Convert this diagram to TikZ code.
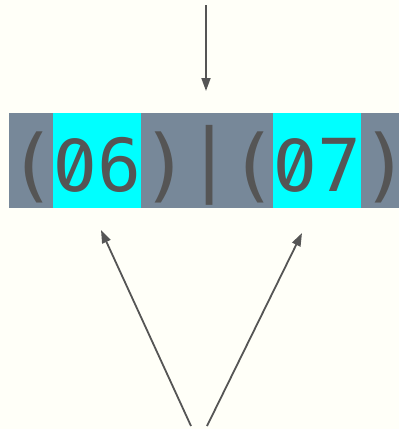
\documentclass[tikz,border=0pt]{standalone}
\usepackage{fontspec}
\setmonofont{DejaVu Sans Mono}
\newfontfamily\zerofont[RawFeature=+zero]{Fira Sans}
\usetikzlibrary{arrows.meta}
\definecolor{paper}{HTML}{FFFFF8}
\definecolor{ink}{HTML}{555555}
\definecolor{slate}{HTML}{778899}
\definecolor{hilite}{HTML}{00FFFF}
% glyph variants: slashed zero, taller brackets and bar
\newcommand{\szero}{{\zerofont\fontsize{78}{78}\selectfont 0}}
\newcommand{\tallglyph}[2]{\raisebox{#1pt}{\fontsize{80}{80}\selectfont #2}}
\tikzset{
  glyph/.style={inner sep=0pt, outer sep=0pt, minimum width=44pt,
    text height=78pt, text depth=17pt, text=ink, anchor=north west,
    font=\ttfamily\fontsize{73}{73}\selectfont},
  plaincell/.style={glyph, fill=slate},
  hicell/.style={glyph, fill=hilite},
  pointer/.style={draw=ink, line width=1.8pt, -{Triangle[length=13pt,width=9pt]}}
}
\begin{document}
\begin{tikzpicture}[x=1pt, y=-1pt]
  \fill[paper] (0,0) rectangle (399,429);
  \useasboundingbox (0,0) rectangle (399,429);
  \clip (0,0) rectangle (399,429);
  % the character strip
  \node[plaincell] (c1) at (9,113)   {\tallglyph{-1}{(}};
  \node[hicell]    (c2) at (53,113)  {\szero};
  \node[hicell]    (c3) at (97,113)  {6};
  \node[plaincell] (c4) at (141,113) {\tallglyph{-1}{)}};
  \node[plaincell] (c5) at (185,113) {\tallglyph{5}{|}};
  \node[plaincell] (c6) at (229,113) {\tallglyph{-1}{(}};
  \node[hicell]    (c7) at (273,113) {\szero};
  \node[hicell]    (c8) at (317,113) {7};
  \node[plaincell] (c9) at (361,113) {\tallglyph{-1}{)}};
  % pointers
  \coordinate (topstart) at (206,5);
  \coordinate (toptip) at (206,91);
  \coordinate (lstart) at (191,426);
  \coordinate (ltip) at (101,230);
  \coordinate (rstart) at (207,426);
  \coordinate (rtip) at (302,233);
  \draw[pointer] (topstart) -- (toptip);
  \draw[pointer] (lstart) -- (ltip);
  \draw[pointer] (rstart) -- (rtip);
\end{tikzpicture}
\end{document}
